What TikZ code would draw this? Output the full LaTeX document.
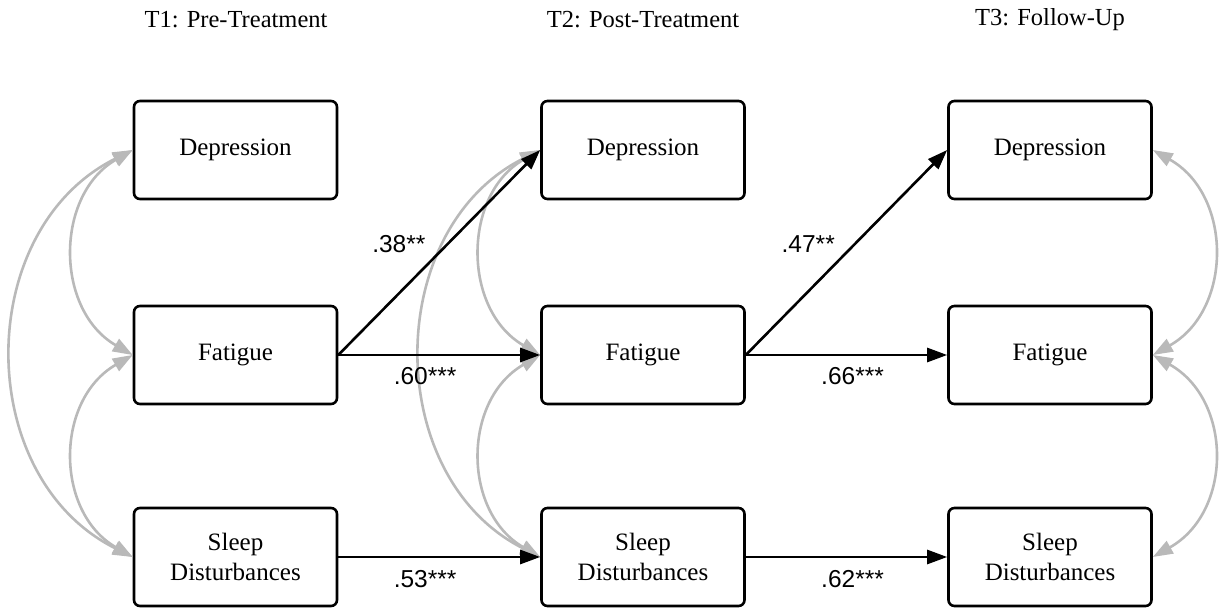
\documentclass[tikz,border=0pt]{standalone}
\usepackage{fontspec}
\setmainfont{Liberation Serif}
\newfontfamily\labfont{Liberation Sans}
\usetikzlibrary{arrows.meta}
\begin{document}
\begin{tikzpicture}[x=1pt,y=-1pt,
  var/.style={draw=black,line width=2.6pt,rounded corners=6pt,minimum width=203pt,minimum height=98pt,align=center,font=\fontsize{25}{30}\selectfont,inner sep=0pt},
  ttl/.style={font=\fontsize{24.5}{30}\selectfont},
  path/.style={line width=2.6pt,-{Triangle[length=20pt,width=14pt]}},
  cov/.style={line width=2.6pt,draw={rgb,255:red,185;green,185;blue,185},{Triangle[length=20pt,width=14pt]}-{Triangle[length=20pt,width=14pt]}},
  coef/.style={font=\labfont\fontsize{24.5}{28}\selectfont}]
\useasboundingbox (0,0) rectangle (1219,612);
\node[ttl] (h1) at (236,20) {T1: Pre-Treatment};
\node[ttl] (h2) at (643,20) {T2: Post-Treatment};
\node[ttl] (h3) at (1050,20) {T3: Follow-Up};
\foreach \c/\x in {1/235.5,2/643,3/1050}{
  \node[var] (d\c) at (\x,150) {Depression};
  \node[var] (f\c) at (\x,355) {Fatigue};
  \node[var] (s\c) at (\x,557) {Sleep\\Disturbances};
}
% covariances T1
\draw[cov] (d1.west) .. controls +(-78,45) and +(-78,-45) .. (f1.west);
\draw[cov] (f1.west) .. controls +(-78,45) and +(-78,-45) .. (s1.west);
\draw[cov] (d1.west) .. controls +(-160,80) and +(-160,-80) .. (s1.west);
% covariances T2
\draw[cov] (d2.west) .. controls +(-78,45) and +(-78,-45) .. (f2.west);
\draw[cov] (f2.west) .. controls +(-78,45) and +(-78,-45) .. (s2.west);
\draw[cov] (d2.west) .. controls +(-158,80) and +(-158,-80) .. (s2.west);
% covariances T3
\draw[cov] (d3.east) .. controls +(80,45) and +(80,-45) .. (f3.east);
\draw[cov] (f3.east) .. controls +(80,45) and +(80,-45) .. (s3.east);
% paths
\draw[path] (f1.east) -- node[coef,pos=0.3,yshift=49pt] (l1) {.38**} (d2.west);
\draw[path] (f1.east) -- node[coef,pos=0.43,yshift=-21pt] (l2) {.60***} (f2.west);
\draw[path] (s1.east) -- node[coef,pos=0.43,yshift=-22pt] (l3) {.53***} (s2.west);
\draw[path] (f2.east) -- node[coef,pos=0.31,yshift=47pt] (l4) {.47**} (d3.west);
\draw[path] (f2.east) -- node[coef,pos=0.53,yshift=-21pt] (l5) {.66***} (f3.west);
\draw[path] (s2.east) -- node[coef,pos=0.53,yshift=-22pt] (l6) {.62***} (s3.west);
\end{tikzpicture}
\end{document}
